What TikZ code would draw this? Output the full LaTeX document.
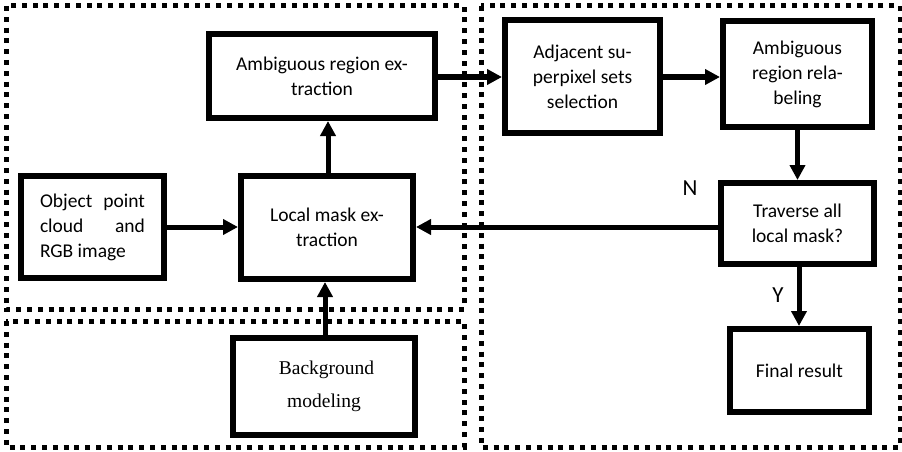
\documentclass[tikz,border=0pt]{standalone}
\usepackage{fontspec}
\setmainfont{Carlito}
\newfontfamily\serifb{Liberation Serif}
\usetikzlibrary{arrows.meta}
\begin{document}
\begin{tikzpicture}[x=1pt,y=-1pt,
  region/.style={line width=5pt,dash pattern=on 5pt off 5.8pt,black},
  proc/.style={draw,line width=6pt,rectangle,font=\fontsize{19.5}{25}\selectfont,align=center,inner sep=0pt},
  flow/.style={line width=5pt,-{Triangle[length=15pt,width=15pt]}},
  lbl/.style={font=\fontsize{23}{25}\selectfont}]
\useasboundingbox (0,0) rectangle (902,452);
\fill[white] (0,0) rectangle (902,452);
% regions
\draw[region] (6,6) rectangle (464,309);
\draw[region] (6,321) rectangle (464,447);
\draw[region] (481,6) rectangle (900,447);
% boxes
\node[proc,minimum width=226pt,minimum height=84pt] (amb) at (322,76) {Ambiguous region ex-\\traction};
\node[proc,minimum width=143pt,minimum height=102pt] (obj) at (92.5,227) {\parbox{105pt}{Object\hfill point\\cloud\hfill and\\RGB image}};
\node[proc,minimum width=172pt,minimum height=103pt] (loc) at (327,227.5) {Local mask ex-\\traction};
\node[proc,minimum width=182pt,minimum height=97pt,font=\serifb\fontsize{19.5}{33}\selectfont] (bg) at (324,386.5) {\hspace*{5pt}Background\\modeling};
\node[proc,minimum width=155pt,minimum height=113pt] (adj) at (582.5,76.5) {Adjacent su-\\perpixel sets\\selection};
\node[proc,minimum width=149pt,minimum height=106pt] (rel) at (797.5,74) {Ambiguous\\region rela-\\beling};
\node[proc,minimum width=153pt,minimum height=81pt] (trav) at (797.5,223.5) {Traverse all\\local mask?};
\node[proc,minimum width=139pt,minimum height=83pt] (fin) at (799.5,370.5) {Final result};
% arrows
\draw[flow] (amb.east |- 0,77) -- (adj.west |- 0,77);
\draw[flow] (adj.east |- 0,77) -- (rel.west |- 0,77);
\draw[flow] (rel.south) -- (trav.north);
\draw[flow] (trav.west |- 0,227) -- (loc.east |- 0,227);
\draw[flow] (obj.east |- 0,227) -- (loc.west |- 0,227);
\draw[flow] (loc.north -| 328,0) -- (amb.south -| 328,0);
\draw[flow] (bg.north -| 325,0) -- (loc.south -| 325,0);
\draw[flow] (trav.south -| 799,0) -- (fin.north -| 799,0);
\node[lbl] (n) at (690,188) {N};
\node[lbl] (y) at (778,295) {Y};
\end{tikzpicture}
\end{document}
